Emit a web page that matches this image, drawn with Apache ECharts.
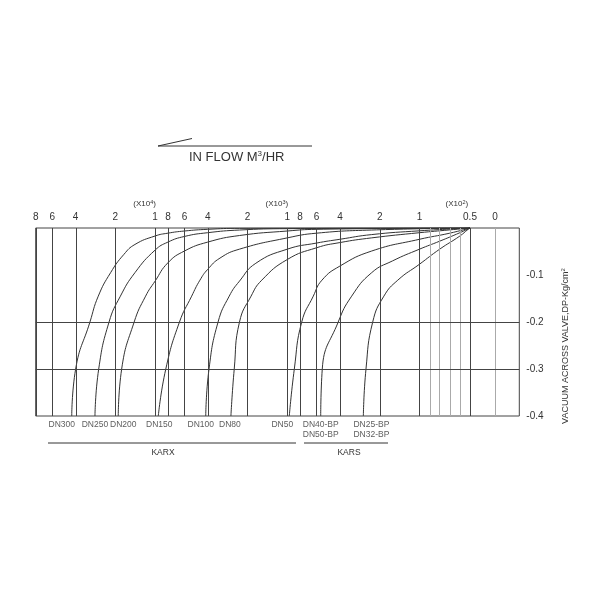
<!DOCTYPE html>
<html>
<head>
<meta charset="utf-8">
<script src="https://cdn.jsdelivr.net/npm/echarts@6/dist/echarts.min.js"></script>
<style>html,body{margin:0;padding:0;background:#fff}#c{width:600px;height:600px}</style>
</head>
<body>
<div id="c"></div>
<script>
// ---------- data ----------
const flowTicks      = [80000,60000,40000,20000,10000,8000,6000,4000,2000,1000,800,600,400,200,100,90,80,70,60,50,0];
const flowTickLabels = ['8','6','4','2','1','8','6','4','2','1','8','6','4','2','1','','','','','0.5','0'];
const multiplierExp  = ['4','3','2'];
const multiplierAt   = [12000,1200,63];
const vacuumTicks    = [-0.1,-0.2,-0.3,-0.4];
const vacuumGrid     = [-0.2,-0.3];
const curveNames     = ['DN300','DN250','DN200','DN150','DN100','DN80','DN50','DN40-BP\nDN50-BP','DN25-BP\nDN32-BP'];
// [flow m3/h, vacuum kg/cm2]
const curveDN300 = [[42700,-0.4],[39900,-0.3],[31100,-0.2],[26900,-0.145],[21700,-0.095],[17200,-0.056],[14200,-0.035],[10000,-0.017],[8000,-0.011],[6000,-0.0064],[4000,-0.0028],[2300,-0.0007],[50,0]];
const curveDN250 = [[28500,-0.4],[26700,-0.3],[22300,-0.2],[18300,-0.145],[14200,-0.095],[10000,-0.047],[8000,-0.030],[6000,-0.018],[4000,-0.010],[2300,-0.0043],[1000,-0.0014],[50,0]];
const curveDN200 = [[19000,-0.4],[17900,-0.3],[14400,-0.2],[11800,-0.145],[10000,-0.113],[8000,-0.074],[6000,-0.049],[4000,-0.030],[2300,-0.016],[1000,-0.0064],[600,-0.0028],[50,0]];
const curveDN150 = [[9460,-0.4],[8300,-0.3],[6540,-0.2],[5290,-0.145],[4580,-0.111],[4000,-0.088],[3230,-0.064],[2300,-0.045],[1000,-0.021],[600,-0.011],[230,-0.0043],[50,0]];
const curveDN100 = [[4140,-0.4],[3910,-0.3],[3340,-0.2],[2750,-0.145],[2300,-0.113],[1730,-0.075],[1000,-0.045],[600,-0.032],[400,-0.024],[230,-0.014],[100,-0.006],[50,0]];
const curveDN80  = [[2670,-0.4],[2520,-0.3],[2300,-0.2],[1880,-0.145],[1560,-0.111],[1000,-0.067],[600,-0.042],[400,-0.031],[230,-0.021],[100,-0.010],[70,-0.004],[50,0]];
const curveDN50  = [[966,-0.4],[885,-0.3],[778,-0.2],[636,-0.145],[547,-0.111],[400,-0.081],[230,-0.049],[100,-0.024],[70,-0.011],[50,0]];
const curveDN40  = [[559,-0.4],[544,-0.3],[412,-0.2],[326,-0.145],[230,-0.095],[160,-0.070],[100,-0.045],[80,-0.028],[60,-0.010],[50,0]];
const curveDN25  = [[266,-0.4],[254,-0.3],[226,-0.2],[186,-0.145],[146,-0.111],[100,-0.077],[80,-0.045],[60,-0.017],[52,-0.003],[50,0]];
const curves = [curveDN300,curveDN250,curveDN200,curveDN150,curveDN100,curveDN80,curveDN50,curveDN40,curveDN25];
const groupNames = ['KARX','KARS'];

// ---------- styling ----------
const labelShift = [-10, 0, 5, 1, -5, -1, -7, 0, 8];   // horizontal nudge of the size labels, px
const FONT = 'Liberation Sans, Arial, sans-serif';
const INK = '#333';

// ---------- axis scale (log down to 100 m3/h, compressed linear tail to 0, as drawn) ----------
const TAIL_K1 = 0.007638, TAIL_K2 = 0.00378, AXIS_RIGHT = 1.2453;
function flowToAxis(v) {
  if (v >= 100) return Math.log10(v);
  if (v >= 50) return 2 - (100 - v) * TAIL_K1;
  return 2 - 50 * TAIL_K1 - (50 - v) * TAIL_K2;
}
const AXIS_LEFT = flowToAxis(flowTicks[0]);
function labelFor(values, labels, v) {
  for (let i = 0; i < values.length; i++) if (Math.abs(flowToAxis(values[i]) - v) < 1e-6) return labels[i];
  return '';
}
const labeled = flowTicks.filter((v, i) => flowTickLabels[i] !== '');

const chart = echarts.init(document.getElementById('c'));
const series = curves.map((c, k) => ({
  name: curveNames[k], type: 'line', smooth: 0.5, showSymbol: false, silent: true,
  lineStyle: {color: INK, width: 1}, data: c.map(p => [flowToAxis(p[0]), p[1]])
}));
series.push({
  type: 'line', data: [], silent: true,
  markLine: {
    symbol: ['none','none'], silent: true, label: {show: false},
    lineStyle: {type: 'solid', width: 1, color: '#444'},
    data: flowTicks.map(v => ({xAxis: flowToAxis(v),
        lineStyle: {type: 'solid', width: 1, color: (v < 100 && v !== 50) ? '#aaa' : '#444'}}))
      .concat(vacuumGrid.map(d => ({yAxis: d, lineStyle: {type: 'solid', width: 1, color: '#444'}})))
  }
});
series.push({
  type: 'scatter', symbolSize: 2, itemStyle: {color: 'rgba(0,0,0,0)'}, silent: true, z: 5,
  label: {show: true, position: 'bottom', distance: 3, formatter: '{b}', fontSize: 8.5, lineHeight: 10,
          color: INK, fontFamily: FONT},
  data: curves.map((c, k) => ({name: curveNames[k], value: [flowToAxis(c[0][0]), c[0][1]],
                                label: {offset: [labelShift[k], 0]}}))
});

chart.setOption({
  animation: false,
  backgroundColor: '#fff',
  title: {
    text: '{a|IN FLOW M}{s|3}{a|/HR}', left: 189, top: 150, padding: 0,
    textStyle: {fontWeight: 'normal', rich: {
      a: {fontSize: 13, fontFamily: FONT, color: INK, lineHeight: 15, fontWeight: 'normal'},
      s: {fontSize: 8, fontFamily: FONT, color: INK, lineHeight: 8, verticalAlign: 'top', fontWeight: 'normal'}
    }}
  },
  grid: {left: 35.7, right: 80.7, top: 228, bottom: 184, show: true, borderColor: '#444', borderWidth: 1},
  xAxis: [{
    type: 'value', position: 'top', inverse: true, min: AXIS_RIGHT, max: AXIS_LEFT,
    axisLine: {show: false}, axisTick: {show: false}, splitLine: {show: false},
    axisLabel: {customValues: labeled.map(flowToAxis), margin: 6, fontSize: 10, color: INK, fontFamily: FONT,
      formatter: v => labelFor(flowTicks, flowTickLabels, v)}
  }, {
    type: 'value', position: 'top', inverse: true, min: AXIS_RIGHT, max: AXIS_LEFT, offset: 13,
    axisLine: {show: false}, axisTick: {show: false}, splitLine: {show: false},
    axisLabel: {customValues: multiplierAt.map(flowToAxis), margin: 6,
      formatter: v => { const e = labelFor(multiplierAt, multiplierExp, v); return e ? '{a|(X10}{s|' + e + '}{a|)}' : ''; },
      rich: {
        a: {fontSize: 8, fontFamily: FONT, color: INK, lineHeight: 10},
        s: {fontSize: 5.5, fontFamily: FONT, color: INK, lineHeight: 6, verticalAlign: 'top'}
      }}
  }],
  yAxis: {
    type: 'value', position: 'right', min: -0.4, max: 0, interval: 0.1,
    axisLine: {show: false}, axisTick: {show: false}, splitLine: {show: false},
    axisLabel: {customValues: vacuumTicks, margin: 7, fontSize: 10, color: INK, fontFamily: FONT,
      formatter: v => (Math.abs(v) < 1e-9 ? '' : v.toFixed(1))}
  },
  graphic: [
    {type: 'line', shape: {x1: 158, y1: 146, x2: 312, y2: 146}, style: {stroke: INK, lineWidth: 1}},
    {type: 'line', shape: {x1: 158, y1: 146, x2: 192, y2: 138.5}, style: {stroke: INK, lineWidth: 1}},
    {type: 'line', shape: {x1: 48, y1: 443, x2: 296, y2: 443}, style: {stroke: INK, lineWidth: 1}},
    {type: 'line', shape: {x1: 304, y1: 443, x2: 388, y2: 443}, style: {stroke: INK, lineWidth: 1}},
    {type: 'text', x: 163, y: 453, style: {text: groupNames[0], fontSize: 8.5, fontFamily: FONT, fill: INK, align: 'center', verticalAlign: 'middle'}},
    {type: 'text', x: 349, y: 453, style: {text: groupNames[1], fontSize: 8.5, fontFamily: FONT, fill: INK, align: 'center', verticalAlign: 'middle'}},
    {type: 'text', x: 566, y: 346, rotation: Math.PI / 2,
     style: {text: '{a|VACUUM ACROSS VALVE,DP-Kg/cm}{s|2}', align: 'center', verticalAlign: 'middle',
       rich: {a: {fontSize: 9, fontFamily: FONT, fill: INK, lineHeight: 11},
              s: {fontSize: 6, fontFamily: FONT, fill: INK, lineHeight: 6, verticalAlign: 'top'}}}}
  ],
  series: series
});
</script>
</body>
</html>
